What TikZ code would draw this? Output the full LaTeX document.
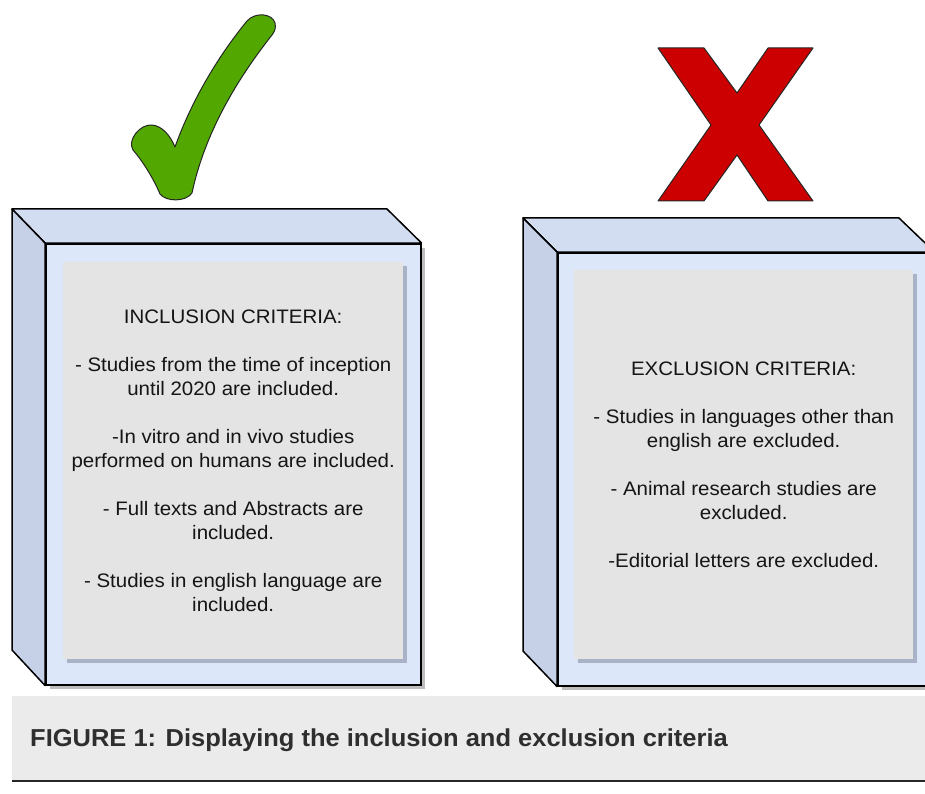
\documentclass[tikz,border=0pt]{standalone}
\usepackage{fontspec}
\setmainfont{Liberation Sans}
\newfontfamily\critfont[FakeStretch=1.05]{Liberation Sans}
\newfontfamily\capfont[FakeStretch=1.04]{Liberation Sans}
\usetikzlibrary{positioning}
\usetikzlibrary{shadows}
\definecolor{cTop}{HTML}{D3DDF1}
\definecolor{cSide}{HTML}{C6D1E8}
\definecolor{cFront}{HTML}{DDE7FA}
\definecolor{cPanel}{HTML}{E4E4E4}
\definecolor{cPanelShadow}{HTML}{A9B2C6}
\definecolor{cBoxShadow}{HTML}{BDBDBD}
\definecolor{cBand}{HTML}{EBEBEB}
\definecolor{cText}{HTML}{151515}
\definecolor{cCaption}{HTML}{2E2E2E}
\definecolor{vGreen}{HTML}{52A800}
\definecolor{vRed}{HTML}{CC0000}

\begin{document}
\begin{tikzpicture}[x=1pt, y=-1pt,
    front/.style = {draw=black, line width=1.5pt, fill=cFront, anchor=north west, inner sep=0pt,
      drop shadow={shadow xshift=4pt, shadow yshift=-4pt, fill=cBoxShadow, opacity=1}},
    face/.style = {draw=black, line width=1.5pt, line join=round},
    panel/.style = {fill=cPanel, inner sep=0pt, anchor=north west,
      drop shadow={shadow xshift=4pt, shadow yshift=-4pt, fill=cPanelShadow, opacity=1}},
    crit/.style = {align=center, text=cText, font=\critfont\fontsize{19.5}{24}\selectfont},
    sign/.style = {draw=black!85, line width=1pt, line join=round},
  ]

  \useasboundingbox (0,0) rectangle (925,794);
  \fill[white] (0,0) rectangle (925,794);
  \clip (0,0) rectangle (925,794);

  % inclusion box
  \node[front, minimum width=375pt, minimum height=441pt] (infront) at (45,243) {};
  \filldraw[face, fill=cTop] (infront.north west) -- ++(-33,-34) -- ++(375,0) -- (infront.north east) -- cycle;
  \filldraw[face, fill=cSide] (infront.north west) -- ++(-33,-34) -- ++(0,441) -- (infront.south west) -- cycle;
  \node[panel, minimum width=340pt, minimum height=397pt] (inpanel) at (63,262) {};
  \node[crit] (intext) at (inpanel.center) {%
    INCLUSION CRITERIA:\\[24pt]
    - Studies from the time of inception\\ until 2020 are included.\\[24pt]
    -In vitro and in vivo studies\\ performed on humans are included.\\[24pt]
    - Full texts and Abstracts are\\ included.\\[24pt]
    - Studies in english language are\\ included.};

  % exclusion box
  \node[front, minimum width=376pt, minimum height=433pt] (exfront) at (557,252) {};
  \filldraw[face, fill=cTop] (exfront.north west) -- ++(-34,-34) -- ++(376,0) -- (exfront.north east) -- cycle;
  \filldraw[face, fill=cSide] (exfront.north west) -- ++(-34,-34) -- ++(0,433) -- (exfront.south west) -- cycle;
  \node[panel, minimum width=339pt, minimum height=389pt] (expanel) at (574,270) {};
  \node[crit] (extext) at (expanel.center) {%
    EXCLUSION CRITERIA:\\[24pt]
    - Studies in languages other than\\ english are excluded.\\[24pt]
    - Animal research studies are\\ excluded.\\[24pt]
    -Editorial letters are excluded.};

  % check mark
  \filldraw[sign, fill=vGreen] (175,147)
    .. controls (190,105) and (215,60) .. (247,21)
    .. controls (255,12) and (272,13) .. (275,23)
    .. controls (276,28) and (275,31) .. (272,35)
    .. controls (238,78) and (205,132) .. (192,193)
    .. controls (186,202) and (166,202) .. (160,194)
    .. controls (152,175) and (140,158) .. (133,150)
    .. controls (127,140) and (140,124) .. (152,125)
    .. controls (162,126) and (170,135) .. (175,147) -- cycle;

  % cross
  \filldraw[sign, fill=vRed] (658,48) -- (704,48) -- (737,93) -- (768,48) -- (813,48)
    -- (759,125) -- (813,201) -- (768,201) -- (737,155) -- (704,201) -- (658,201)
    -- (711,125) -- cycle;

  % caption
  \fill[cBand] (12,696) rectangle (925,780);
  \draw[line width=1.5pt, black!85] (12,781) -- (925,781);
  \node[anchor=west, inner sep=0pt, text=cCaption, font=\capfont\bfseries\fontsize{24.5}{28}\selectfont] (caption)
    at (30,740) {FIGURE 1: Displaying the inclusion and exclusion criteria};
\end{tikzpicture}
\end{document}
